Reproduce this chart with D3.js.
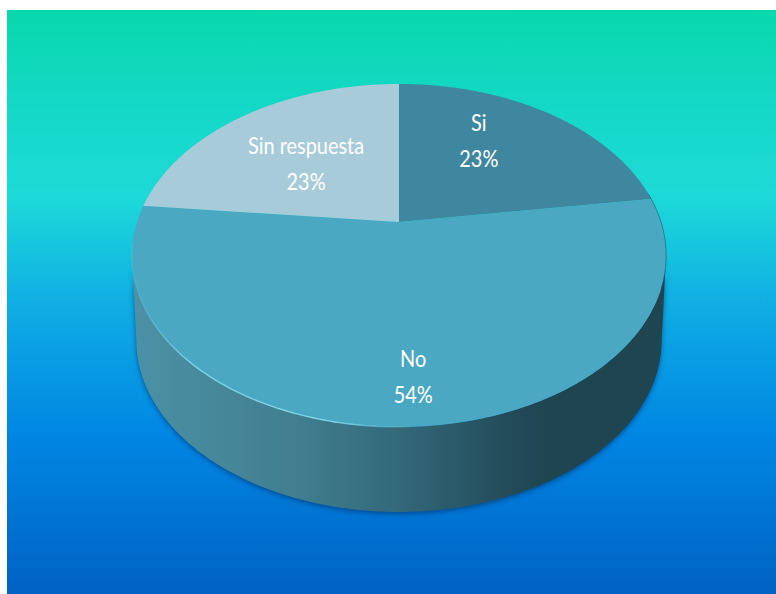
<!DOCTYPE html>
<html>
<head>
<meta charset="utf-8">
<script src="https://d3js.org/d3.v7.min.js"></script>
<style>
  html, body { margin: 0; padding: 0; background: #fff; }
  svg { display: block; }
  text { font-family: Lato, "Open Sans", sans-serif; fill: #fff; }
</style>
</head>
<body>
<div id="chart"></div>
<script>
const categories = ['Si', 'No', 'Sin respuesta'];
const values = [22.7, 53.9, 23.4];
const sliceColors = ['#3f879f', '#4ba8c3', '#a8cbd9'];

const width = 776;
const height = 594;

const svg = d3.select('#chart')
    .append('svg')
        .attr('width', width)
        .attr('height', height);

const defs = svg.append('defs');

const bg = defs.append('linearGradient')
    .attr('id', 'bg').attr('x1', 0).attr('y1', 0).attr('x2', 0).attr('y2', 1);
[[0, '#08d8ac'], [0.16, '#14d8c6'], [0.32, '#1cdad8'], [0.5, '#10aee4'], [0.72, '#0088e4'], [1, '#0062c4']]
    .forEach(s => bg.append('stop').attr('offset', s[0]).attr('stop-color', s[1]));

const wall = defs.append('linearGradient')
    .attr('id', 'wall').attr('gradientUnits', 'userSpaceOnUse')
    .attr('x1', 132).attr('y1', 0).attr('x2', 666).attr('y2', 0);
[[0, '#4c91a6'], [0.3, '#417f90'], [0.5, '#33697a'], [0.7, '#234c5a'], [0.78, '#1e4550'], [1, '#1e4550']]
    .forEach(s => wall.append('stop').attr('offset', s[0]).attr('stop-color', s[1]));

const rimLight = defs.append('linearGradient')
    .attr('id', 'rimLight').attr('gradientUnits', 'userSpaceOnUse')
    .attr('x1', 135).attr('y1', 0).attr('x2', 420).attr('y2', 0);
[[0, 0.15], [0.2, 0.75], [0.7, 0.8], [1, 0]]
    .forEach(s => rimLight.append('stop').attr('offset', s[0]).attr('stop-color', '#8fe3f2').attr('stop-opacity', s[1]));

const shadow = defs.append('filter').attr('id', 'shadow')
    .attr('x', '-5%').attr('y', '-5%').attr('width', '110%').attr('height', '110%');
shadow.append('feGaussianBlur').attr('stdDeviation', 2.5);

// the pie is tilted in perspective, so angles go through this projection
const cx = 399, apexY = 222, ax = 262, ay = 165, k = -0.195, depth = 85, bottomScale = 0.983;

function project(a, r = 1) {
    const u = r * Math.sin(a), v = -r * Math.cos(a);
    const w = 1 + k * v;
    return [cx + ax * u / w, apexY + ay * v / w];
}
function projectBottom(a) {
    const p = project(a);
    return [cx + (p[0] - cx) * bottomScale, p[1] + depth];
}
function sweep(a0, a1, fn) {
    const n = Math.max(2, Math.ceil(Math.abs(a1 - a0) / 0.01));
    return d3.range(n + 1).map(i => fn(a0 + (a1 - a0) * i / n));
}

const line = d3.line();
const rad = d => d * Math.PI / 180;
const sideR = Math.PI / 2 - Math.asin(k);   // widest point of the rim, right side
const sideL = 2 * Math.PI - sideR;

const pie = d3.pie().sort(null).value(d => d)(values);

svg.append('rect')
    .attr('x', 7).attr('y', 10)
    .attr('width', width - 7).attr('height', height - 10)
    .attr('fill', 'url(#bg)');

const wallPoints = sweep(sideR, sideL, project)
    .concat(sweep(sideL, sideR, projectBottom));

svg.append('path')
    .attr('d', line(wallPoints) + 'Z')
    .attr('fill', '#003a78')
    .attr('opacity', 0.7)
    .attr('filter', 'url(#shadow)')
    .attr('transform', 'translate(0,2)');

svg.append('path')
    .attr('d', line(wallPoints) + 'Z')
    .attr('fill', 'url(#wall)');

svg.append('g')
    .selectAll('path')
    .data(pie)
    .join('path')
        .attr('d', d => line([project(0, 0)].concat(sweep(d.startAngle, d.endAngle, project))) + 'Z')
        .attr('fill', (d, i) => sliceColors[i]);

// rim highlight on the front left, dark edge on the right
svg.append('path')
    .attr('d', line(sweep(rad(178), rad(262), project)))
    .attr('fill', 'none')
    .attr('stroke', 'url(#rimLight)')
    .attr('stroke-width', 1.4);

svg.append('path')
    .attr('d', line(sweep(rad(80), rad(112), project)))
    .attr('fill', 'none')
    .attr('stroke', '#1e4550')
    .attr('stroke-width', 1)
    .attr('opacity', 0.5);

const labelNudge = [[0, -27], [11, 60], [-11, -5]];
const labels = svg.append('g')
    .selectAll('g')
    .data(pie)
    .join('g')
        .attr('transform', (d, i) => {
            const p = project((d.startAngle + d.endAngle) / 2, 0.5);
            return `translate(${p[0] + labelNudge[i][0]},${p[1] + labelNudge[i][1]}) scale(0.83,1)`;
        })
        .attr('text-anchor', 'middle')
        .attr('font-size', 24);

labels.append('text')
    .attr('y', -6)
    .text((d, i) => categories[i]);
labels.append('text')
    .attr('y', 30)
    .text(d => Math.round(d.value) + '%');
</script>
</body>
</html>
